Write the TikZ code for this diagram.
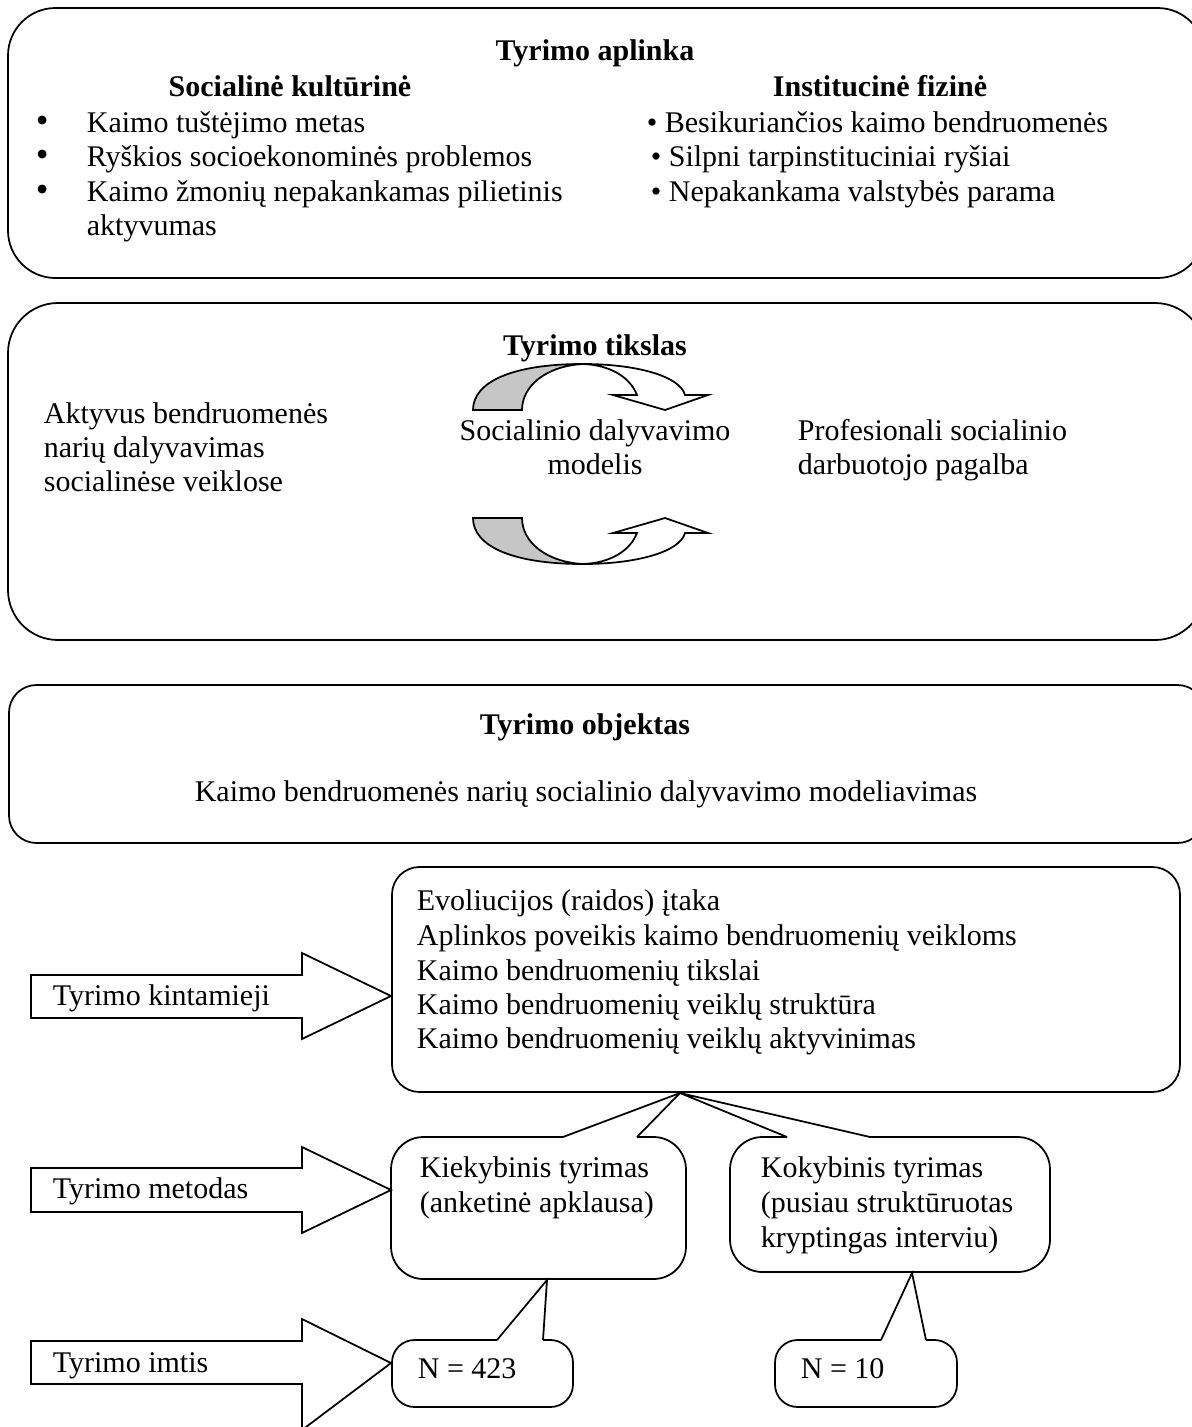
\documentclass[tikz,border=0pt]{standalone}
\usepackage{fontspec}
\setmainfont{Liberation Serif}
\begin{document}
\begin{tikzpicture}[x=0.4pt,y=0.4pt,line width=0.7pt,line join=miter]
	\tikzstyle{every node}+=[inner sep=0pt,font=\fontsize{12}{14}\selectfont]
	\tikzstyle{bolds}=[font=\fontsize{12}{14}\selectfont\bfseries]
	\tikzstyle{dot}=[anchor=base west,font=\fontsize{14.5}{14}\selectfont]
	\useasboundingbox (0,0) rectangle (1192,-1427);
	\clip (0,0) rectangle (1192,-1427);
	% tyrimo aplinka
	\draw [rounded corners=19pt] (8,-8) rectangle (1205,-278);
	\draw (595,-60) node [anchor=base,bolds] (aplinka) {Tyrimo aplinka};
	\draw (290,-96) node [anchor=base,bolds] (soc) {Socialinė kultūrinė};
	\draw (35,-132) node [dot] (b1) {\textbullet};
	\draw (86,-132) node [anchor=base west] (s1) {Kaimo tuštėjimo metas};
	\draw (35,-166) node [dot] (b2) {\textbullet};
	\draw (86,-166) node [anchor=base west] (s2) {Ryškios socioekonominės problemos};
	\draw (35,-201) node [dot] (b3) {\textbullet};
	\draw (86,-201) node [anchor=base west] (s3) {Kaimo žmonių nepakankamas pilietinis};
	\draw (86,-235) node [anchor=base west] (s4) {aktyvumas};
	\draw (880,-96) node [anchor=base,bolds] (inst) {Institucinė fizinė};
	\draw (646,-132) node [anchor=base west] (i1) {\textbullet\ Besikuriančios kaimo bendruomenės};
	\draw (650,-166) node [anchor=base west] (i2) {\textbullet\ Silpni tarpinstituciniai ryšiai};
	\draw (650,-201) node [anchor=base west] (i3) {\textbullet\ Nepakankama valstybės parama};
	% tyrimo tikslas
	\draw [rounded corners=20pt] (8,-303) rectangle (1205,-640);
	\draw (595,-355) node [anchor=base,bolds] (tikslas) {Tyrimo tikslas};
	\draw (43,-423) node [anchor=base west] (a1) {Aktyvus bendruomenės};
	\draw (43,-457) node [anchor=base west] (a2) {narių dalyvavimas};
	\draw (43,-491) node [anchor=base west] (a3) {socialinėse veiklose};
	\draw (595,-440) node [anchor=base] (m1) {Socialinio dalyvavimo};
	\draw (595,-474) node [anchor=base] (m2) {modelis};
	\draw (797,-440) node [anchor=base west] (p1) {Profesionali socialinio};
	\draw (797,-474) node [anchor=base west] (p2) {darbuotojo pagalba};
	\draw [fill=gray!45] (473,-410) .. controls (473,-382) and (512,-364) .. (583,-364) .. controls (546,-366) and (522,-386) .. (522,-410) -- cycle;
	\draw [fill=white] (583,-364) .. controls (636,-364) and (680,-376) .. (685,-395) -- (708,-395) -- (665,-410) -- (613,-395) -- (637,-395) .. controls (630,-377) and (610,-365) .. (583,-364) -- cycle;
	\begin{scope}[shift={(0,-928)},yscale=-1]
	\draw [fill=gray!45] (473,-410) .. controls (473,-382) and (512,-364) .. (583,-364) .. controls (546,-366) and (522,-386) .. (522,-410) -- cycle;
	\draw [fill=white] (583,-364) .. controls (636,-364) and (680,-376) .. (685,-395) -- (708,-395) -- (665,-410) -- (613,-395) -- (637,-395) .. controls (630,-377) and (610,-365) .. (583,-364) -- cycle;
	\end{scope}
	% tyrimo objektas
	\draw [rounded corners=11pt] (9,-685) rectangle (1205,-843);
	\draw (585,-734) node [anchor=base,bolds] (objektas) {Tyrimo objektas};
	\draw (586,-801) node [anchor=base] (obj) {Kaimo bendruomenės narių socialinio dalyvavimo modeliavimas};
	% kintamieji
	\draw [rounded corners=11pt] (392,-867) rectangle (1180,-1092);
	\draw (416,-910) node [anchor=base west] (k1) {Evoliucijos (raidos) įtaka};
	\draw (416,-945) node [anchor=base west] (k2) {Aplinkos poveikis kaimo bendruomenių veikloms};
	\draw (416,-980) node [anchor=base west] (k3) {Kaimo bendruomenių tikslai};
	\draw (416,-1014) node [anchor=base west] (k4) {Kaimo bendruomenių veiklų struktūra};
	\draw (416,-1048) node [anchor=base west] (k5) {Kaimo bendruomenių veiklų aktyvinimas};
	\coordinate (tip) at (680,-1093);
	% metodai
	\draw [rounded corners=13pt] (637,-1137) -- (686,-1137) -- (686,-1279) -- (391,-1279) -- (391,-1137) -- (563,-1137);
	\draw (563,-1137) -- (tip) -- (637,-1137);
	\draw (419,-1177) node [anchor=base west] (q1) {Kiekybinis tyrimas};
	\draw (419,-1212) node [anchor=base west] (q2) {(anketinė apklausa)};
	\draw [rounded corners=13pt] (870,-1137) -- (1050,-1137) -- (1050,-1272) -- (730,-1272) -- (730,-1137) -- (787,-1137);
	\draw (787,-1137) -- (tip) -- (870,-1137);
	\draw (760,-1177) node [anchor=base west] (r1) {Kokybinis tyrimas};
	\draw (760,-1212) node [anchor=base west] (r2) {(pusiau struktūruotas};
	\draw (760,-1247) node [anchor=base west] (r3) {kryptingas interviu)};
	% imtis
	\coordinate (tipa) at (547,-1280);
	\coordinate (tipb) at (912,-1273);
	\draw [rounded corners=9pt] (543,-1340) -- (573,-1340) -- (573,-1407) -- (392,-1407) -- (392,-1340) -- (497,-1340);
	\draw (497,-1340) -- (tipa) -- (543,-1340);
	\draw (417,-1378) node [anchor=base west] (n1) {N = 423};
	\draw [rounded corners=9pt] (926,-1340) -- (957,-1340) -- (957,-1407) -- (775,-1407) -- (775,-1340) -- (881,-1340);
	\draw (881,-1340) -- (tipb) -- (926,-1340);
	\draw (800,-1378) node [anchor=base west] (n2) {N = 10};
	% rodykles
	\draw (31,-975) -- (302,-975) -- (302,-953) -- (391,-996) -- (302,-1039) -- (302,-1018) -- (31,-1018) -- cycle;
	\draw (52,-1005) node [anchor=base west] (kint) {Tyrimo kintamieji};
	\draw (31,-1168) -- (302,-1168) -- (302,-1147) -- (391,-1190) -- (302,-1233) -- (302,-1212) -- (31,-1212) -- cycle;
	\draw (52,-1198) node [anchor=base west] (met) {Tyrimo metodas};
	\draw (31,-1341) -- (302,-1341) -- (302,-1319) -- (391,-1363) -- (302,-1430) -- (302,-1384) -- (31,-1384) -- cycle;
	\draw (52,-1372) node [anchor=base west] (imt) {Tyrimo imtis};
\end{tikzpicture}
\end{document}
